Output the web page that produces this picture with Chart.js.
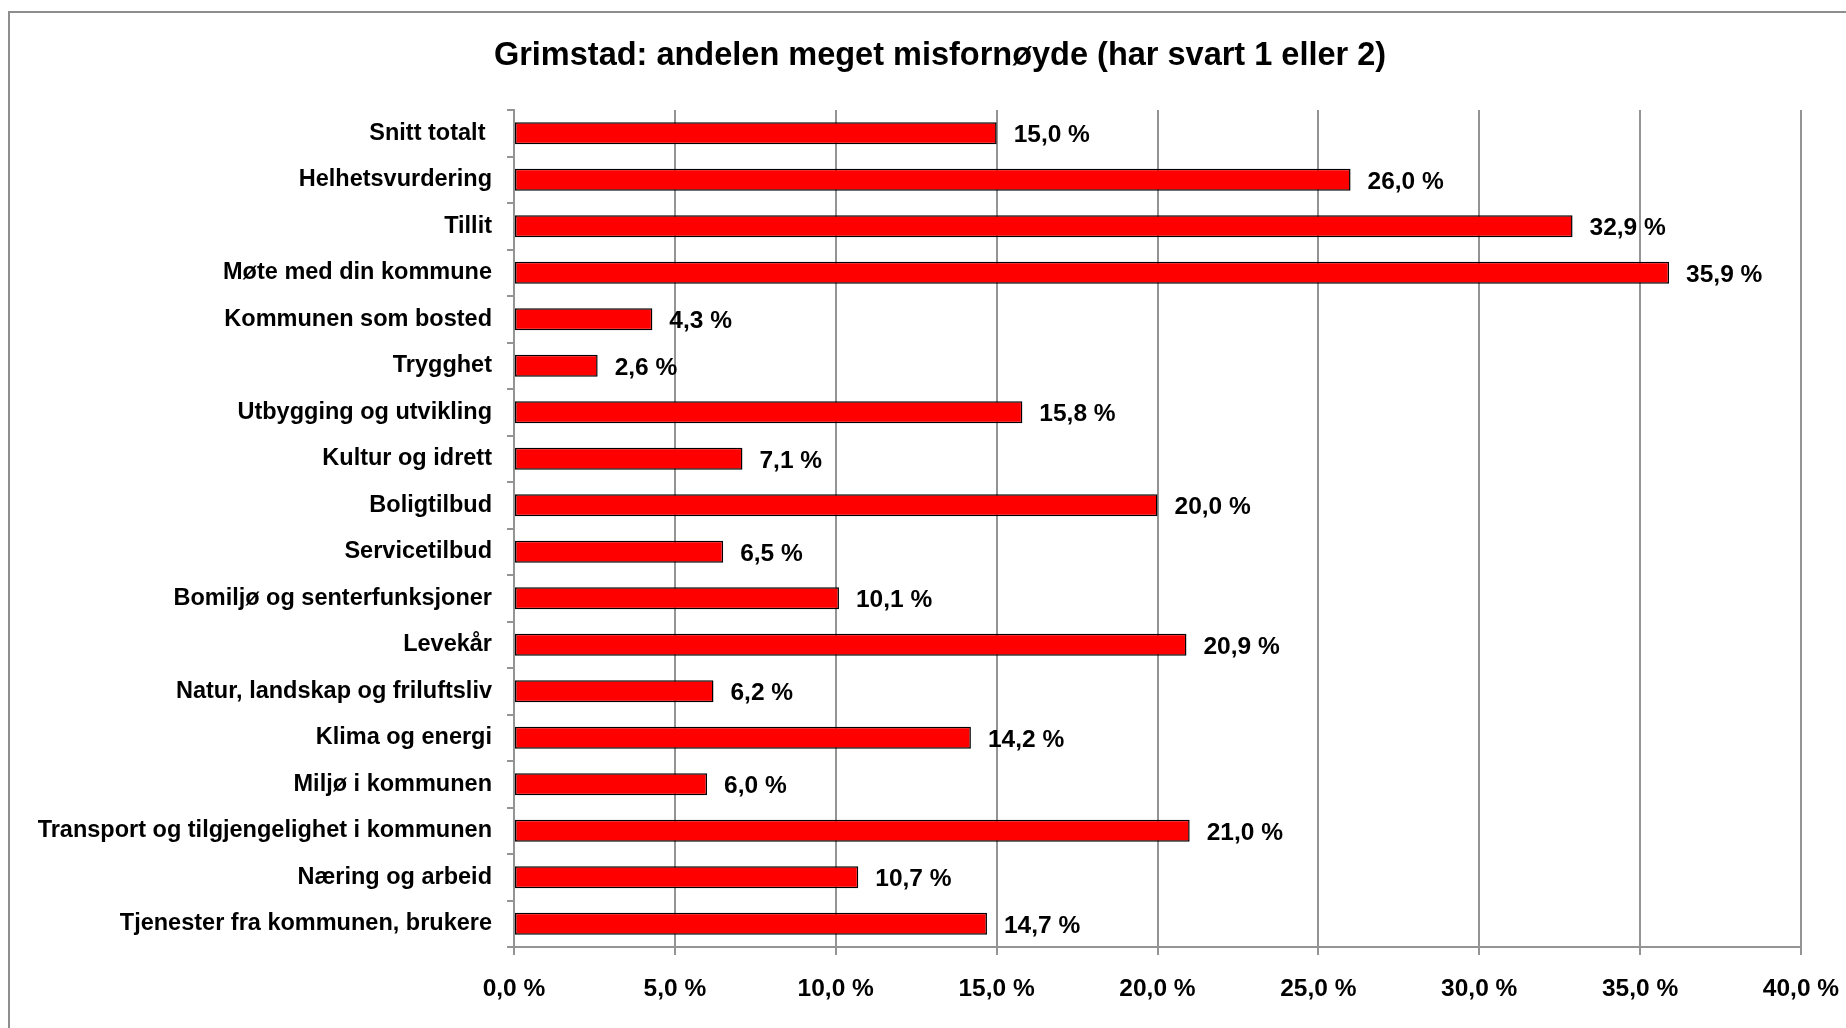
<!DOCTYPE html>
<html>
<head>
<meta charset="utf-8">
<script src="https://cdn.jsdelivr.net/npm/chart.js@4.4.1/dist/chart.umd.min.js"></script>
<style>
html, body { margin: 0; padding: 0; background: #fff; overflow: hidden; }
canvas { display: block; }
</style>
</head>
<body>
<canvas id="barChart" width="1846" height="1028"></canvas>
<script>
const categories = [
    'Snitt totalt ',
    'Helhetsvurdering',
    'Tillit',
    'Møte med din kommune',
    'Kommunen som bosted',
    'Trygghet',
    'Utbygging og utvikling',
    'Kultur og idrett',
    'Boligtilbud',
    'Servicetilbud',
    'Bomiljø og senterfunksjoner',
    'Levekår',
    'Natur, landskap og friluftsliv',
    'Klima og energi',
    'Miljø i kommunen',
    'Transport og tilgjengelighet i kommunen',
    'Næring og arbeid',
    'Tjenester fra kommunen, brukere'
];
const shares = [15.0, 26.0, 32.9, 35.9, 4.3, 2.6, 15.8, 7.1, 20.0, 6.5, 10.1, 20.9, 6.2, 14.2, 6.0, 21.0, 10.7, 14.7];
const axisMin = 0;
const axisMax = 40;
const axisStep = 5;
const chartTitle = 'Grimstad: andelen meget misfornøyde (har svart 1 eller 2)';

const FONT = '"Liberation Sans", Arial, sans-serif';
const GRID = '#949494';

function pct(v) {
    return v.toFixed(1).replace('.', ',') + ' %';
}

// grey frame round the chart (cut off on the right and at the bottom) and the title
const framePlugin = {
    id: 'frame',
    beforeDraw(chart) {
        const ctx = chart.ctx;
        ctx.save();
        ctx.strokeStyle = '#8e8e8e';
        ctx.lineWidth = 2;
        ctx.strokeRect(9, 12, 3000, 3000);
        ctx.font = 'bold 32.5px ' + FONT;
        ctx.fillStyle = '#000';
        ctx.textAlign = 'center';
        ctx.textBaseline = 'middle';
        ctx.fillText(chartTitle, 940, 56);
        ctx.restore();
    }
};

const valueLabels = {
    id: 'valueLabels',
    afterDatasetsDraw(chart) {
        const ctx = chart.ctx;
        const meta = chart.getDatasetMeta(0);
        ctx.save();
        ctx.font = 'bold 24.5px ' + FONT;
        ctx.fillStyle = '#000';
        ctx.textAlign = 'left';
        ctx.textBaseline = 'middle';
        meta.data.forEach((bar, i) => {
            ctx.fillText(pct(shares[i]), bar.x + 17, bar.y + 2);
        });
        ctx.restore();
    }
};

new Chart(document.getElementById('barChart'), {
    type: 'bar',
    data: {
        labels: categories,
        datasets: [{
            data: shares,
            backgroundColor: '#ff0000',
            borderColor: '#000000',
            borderWidth: 1.5,
            borderSkipped: false,
            barPercentage: 0.47,
            categoryPercentage: 1
        }]
    },
    options: {
        indexAxis: 'y',
        responsive: false,
        devicePixelRatio: 1,
        animation: false,
        layout: { padding: { top: 110, left: 10, right: 45, bottom: 21 } },
        plugins: {
            legend: { display: false },
            tooltip: { enabled: false },
            title: { display: false }
        },
        scales: {
            x: {
                min: axisMin,
                max: axisMax,
                afterFit(scale) {
                    scale.height = 60;
                    // the end labels may hang over the plot edges
                    scale.paddingLeft = 0;
                    scale.paddingRight = 0;
                },
                ticks: {
                    stepSize: axisStep,
                    color: '#000',
                    padding: 20,
                    font: { family: FONT, size: 24.5, weight: 'bold' },
                    callback: v => pct(v)
                },
                grid: { color: GRID, lineWidth: 2, tickLength: 8 },
                border: { color: GRID, width: 2 }
            },
            y: {
                afterFit(scale) { scale.width = 504; },
                ticks: {
                    color: '#000',
                    padding: 15,
                    autoSkip: false,
                    font: { family: FONT, size: 23.5, weight: 'bold' }
                },
                grid: { color: GRID, lineWidth: 2, drawOnChartArea: false, tickLength: 7 },
                border: { color: GRID, width: 2 }
            }
        }
    },
    plugins: [framePlugin, valueLabels]
});
</script>
</body>
</html>
